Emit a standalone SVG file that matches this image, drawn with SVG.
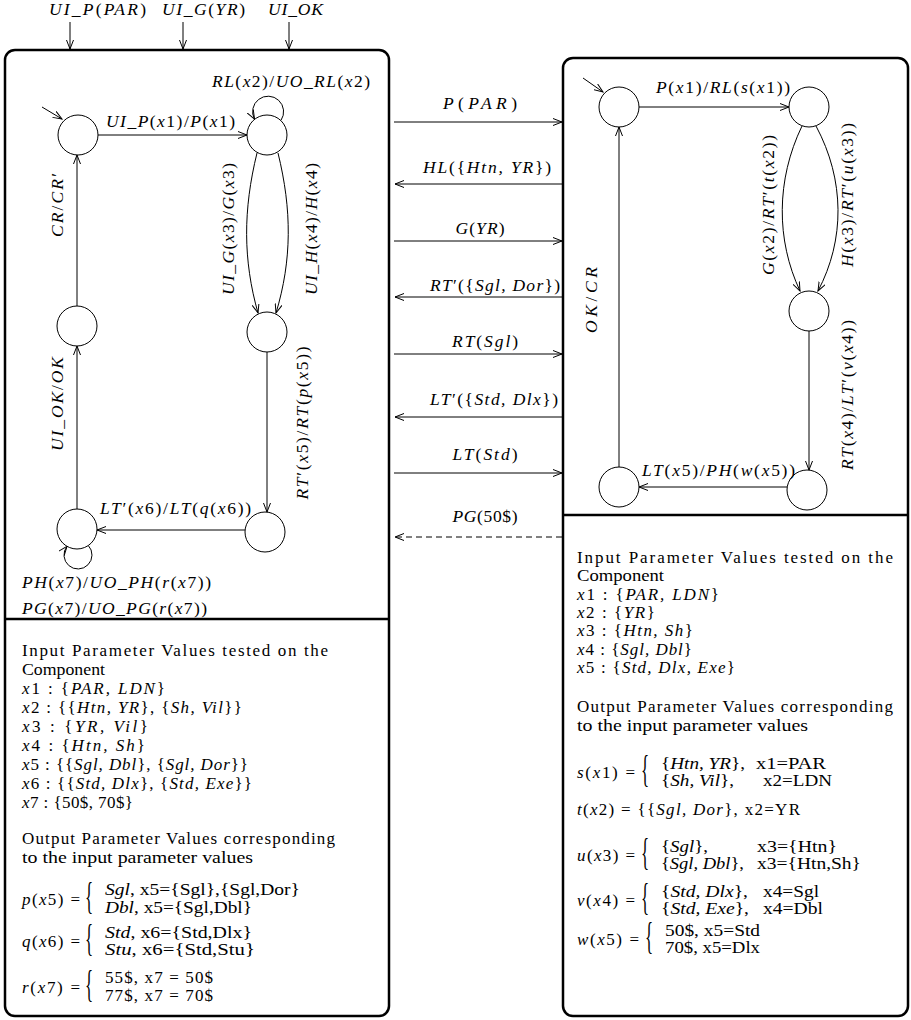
<svg xmlns="http://www.w3.org/2000/svg" width="911" height="1020" viewBox="0 0 911 1020">
<style>
.box{fill:none;stroke:#000;stroke-width:2.5}
.div{stroke:#000;stroke-width:2.5}
.st{fill:#fff;stroke:#000;stroke-width:1}
.e{fill:none;stroke:#000;stroke-width:1;marker-end:url(#a)}
.d{stroke-dasharray:6 4}
.m{font-family:"Liberation Serif",serif;font-style:italic;font-size:17.5px;fill:#000}
.t{font-family:"Liberation Serif",serif;font-size:17px;fill:#000}
.i{font-style:italic}
.u{font-style:normal}
.br{font-family:"Liberation Serif",serif;font-size:17px;fill:#000}
</style>
<defs>
<marker id="a" markerWidth="10" markerHeight="8" refX="9" refY="4" orient="auto" markerUnits="userSpaceOnUse"><path d="M0,0.5 L9,4 L0,7.5" fill="none" stroke="#000" stroke-width="1"/></marker>
</defs>
<rect width="911" height="1020" fill="#fff"/>

<g id="left-box">
<rect class="box" x="5" y="50" width="384" height="966" rx="10"/>
<line class="div" x1="5" y1="619" x2="389" y2="619"/>
</g>
<g id="right-box">
<rect class="box" x="563" y="58" width="345" height="958" rx="10"/>
<line class="div" x1="563" y1="515" x2="908" y2="515"/>
</g>

<g id="connectors">
<path class="e" d="M70,22 V49"/>
<path class="e" d="M183,22 V49"/>
<path class="e" d="M289,22 V49"/>
<path class="e" d="M42,107 L62,119"/>
<path class="e" d="M98,135 H247"/>
<path class="e" d="M281,120.3 A15.5,15.5 0 1 0 254.5,119.1"/>
<path class="e" d="M257,153 C243,210 243,260 258,313"/>
<path class="e" d="M278,153 C292,210 292,260 276,313"/>
<path class="e" d="M267,352 V512"/>
<path class="e" d="M245,530 H97"/>
<path class="e" d="M88.3,545.5 A14,14 0 1 1 67,546.3"/>
<path class="e" d="M77,509 V346"/>
<path class="e" d="M77,306 V155"/>
<path class="e" d="M394,122 H562"/>
<path class="e" d="M562,184 H395"/>
<path class="e" d="M394,241 H562"/>
<path class="e" d="M562,297 H395"/>
<path class="e" d="M394,354 H562"/>
<path class="e" d="M562,417 H395"/>
<path class="e" d="M394,473 H562"/>
<path class="e d" d="M562,537 H395"/>
<path class="e" d="M583,78 L603,92"/>
<path class="e" d="M639,107 H789"/>
<path class="e" d="M802,126 C776,180 776,240 800,291"/>
<path class="e" d="M816,126 C845,180 845,240 818,291"/>
<path class="e" d="M809,331 V470"/>
<path class="e" d="M787,487 H639"/>
<path class="e" d="M619,467 V127"/>
</g>

<g id="s-left-0"><circle class="st" cx="78" cy="135" r="20"/></g>
<g id="s-left-1"><circle class="st" cx="267" cy="135" r="20"/></g>
<g id="s-left-2"><circle class="st" cx="77" cy="326" r="20"/></g>
<g id="s-left-3"><circle class="st" cx="267" cy="332" r="20"/></g>
<g id="s-left-4"><circle class="st" cx="77" cy="529" r="20"/></g>
<g id="s-left-5"><circle class="st" cx="265" cy="532" r="20"/></g>
<g id="s-right-0"><circle class="st" cx="619" cy="107" r="20"/></g>
<g id="s-right-1"><circle class="st" cx="809" cy="107" r="20"/></g>
<g id="s-right-2"><circle class="st" cx="809" cy="311" r="20"/></g>
<g id="s-right-3"><circle class="st" cx="807" cy="490" r="20"/></g>
<g id="s-right-4"><circle class="st" cx="619" cy="487" r="20"/></g>

<g id="labels">
<text class="m" x="49" y="15" textLength="97">UI_P<tspan class="u">(</tspan>PAR<tspan class="u">)</tspan></text>
<text class="m" x="162" y="15" textLength="83">UI_G<tspan class="u">(</tspan>YR<tspan class="u">)</tspan></text>
<text class="m" x="268" y="15" textLength="55">UI_OK</text>
<text class="m" x="212" y="87" textLength="158">RL<tspan class="u">(</tspan>x<tspan class="u">2)/</tspan>UO_RL<tspan class="u">(</tspan>x<tspan class="u">2)</tspan></text>
<text class="m" x="106" y="127" textLength="129">UI_P<tspan class="u">(</tspan>x<tspan class="u">1)/</tspan>P<tspan class="u">(</tspan>x<tspan class="u">1)</tspan></text>
<text class="m" text-anchor="middle" transform="translate(234,229) rotate(-90)" textLength="132">UI_G<tspan class="u">(</tspan>x<tspan class="u">3)/</tspan>G<tspan class="u">(</tspan>x<tspan class="u">3)</tspan></text>
<text class="m" text-anchor="middle" transform="translate(317,229) rotate(-90)" textLength="132">UI_H<tspan class="u">(</tspan>x<tspan class="u">4)/</tspan>H<tspan class="u">(</tspan>x<tspan class="u">4)</tspan></text>
<text class="m" text-anchor="middle" transform="translate(63,205) rotate(-90)" textLength="64">CR<tspan class="u">/</tspan>CR<tspan class="u">′</tspan></text>
<text class="m" text-anchor="middle" transform="translate(63,404) rotate(-90)" textLength="94">UI_OK<tspan class="u">/</tspan>OK</text>
<text class="m" text-anchor="middle" transform="translate(308,423) rotate(-90)" textLength="153">RT<tspan class="u">′(</tspan>x<tspan class="u">5)/</tspan>RT<tspan class="u">(</tspan>p<tspan class="u">(</tspan>x<tspan class="u">5))</tspan></text>
<text class="m" x="100" y="514" textLength="151">LT<tspan class="u">′(</tspan>x<tspan class="u">6)/</tspan>LT<tspan class="u">(</tspan>q<tspan class="u">(</tspan>x<tspan class="u">6))</tspan></text>
<text class="m" x="22" y="588" textLength="189">PH<tspan class="u">(</tspan>x<tspan class="u">7)/</tspan>UO_PH<tspan class="u">(</tspan>r<tspan class="u">(</tspan>x<tspan class="u">7))</tspan></text>
<text class="m" x="22" y="614" textLength="185">PG<tspan class="u">(</tspan>x<tspan class="u">7)/</tspan>UO_PG<tspan class="u">(</tspan>r<tspan class="u">(</tspan>x<tspan class="u">7))</tspan></text>

<text class="m" x="480" y="109" text-anchor="middle" textLength="74">P<tspan class="u">(</tspan>PAR<tspan class="u">)</tspan></text>
<text class="m" x="487" y="173" text-anchor="middle" textLength="128">HL<tspan class="u">({</tspan>Htn, YR<tspan class="u">})</tspan></text>
<text class="m" x="480" y="234" text-anchor="middle" textLength="49">G<tspan class="u">(</tspan>YR<tspan class="u">)</tspan></text>
<text class="m" x="495" y="291" text-anchor="middle" textLength="130">RT<tspan class="u">′({</tspan>Sgl, Dor<tspan class="u">})</tspan></text>
<text class="m" x="485" y="347" text-anchor="middle" textLength="66">RT<tspan class="u">(</tspan>Sgl<tspan class="u">)</tspan></text>
<text class="m" x="494" y="405" text-anchor="middle" textLength="128">LT<tspan class="u">′({</tspan>Std, Dlx<tspan class="u">})</tspan></text>
<text class="m" x="485" y="460" text-anchor="middle" textLength="65">LT<tspan class="u">(</tspan>Std<tspan class="u">)</tspan></text>
<text class="m" x="485" y="522" text-anchor="middle" textLength="65">PG<tspan class="u">(50$)</tspan></text>

<text class="m" x="656" y="93" textLength="134">P<tspan class="u">(</tspan>x<tspan class="u">1)/</tspan>RL<tspan class="u">(</tspan>s<tspan class="u">(</tspan>x<tspan class="u">1))</tspan></text>
<text class="m" text-anchor="middle" transform="translate(774,205) rotate(-90)" textLength="140">G<tspan class="u">(</tspan>x<tspan class="u">2)/</tspan>RT<tspan class="u">′(</tspan>t<tspan class="u">(</tspan>x<tspan class="u">2))</tspan></text>
<text class="m" text-anchor="middle" transform="translate(853,195) rotate(-90)" textLength="144">H<tspan class="u">(</tspan>x<tspan class="u">3)/</tspan>RT<tspan class="u">′(</tspan>u<tspan class="u">(</tspan>x<tspan class="u">3))</tspan></text>
<text class="m" text-anchor="middle" transform="translate(853,395) rotate(-90)" textLength="150">RT<tspan class="u">(</tspan>x<tspan class="u">4)/</tspan>LT<tspan class="u">′(</tspan>v<tspan class="u">(</tspan>x<tspan class="u">4))</tspan></text>
<text class="m" x="642" y="476" textLength="153">LT<tspan class="u">(</tspan>x<tspan class="u">5)/</tspan>PH<tspan class="u">(</tspan>w<tspan class="u">(</tspan>x<tspan class="u">5))</tspan></text>
<text class="m" text-anchor="middle" transform="translate(597,300) rotate(-90)" textLength="66">OK<tspan class="u">/</tspan>CR</text>
</g>

<g id="left-params">
<text class="t" x="22" y="656" textLength="306">Input Parameter Values tested on the</text>
<text class="t" x="22" y="675" textLength="83" lengthAdjust="spacingAndGlyphs">Component</text>
<text class="t" x="22" y="694" textLength="143"><tspan class="i">x</tspan>1 : {<tspan class="i">PAR, LDN</tspan>}</text>
<text class="t" x="22" y="713" textLength="220"><tspan class="i">x</tspan>2 : {{<tspan class="i">Htn, YR</tspan>}, {<tspan class="i">Sh, Vil</tspan>}}</text>
<text class="t" x="22" y="732" textLength="126"><tspan class="i">x</tspan>3 : {<tspan class="i">YR, Vil</tspan>}</text>
<text class="t" x="22" y="751" textLength="123"><tspan class="i">x</tspan>4 : {<tspan class="i">Htn, Sh</tspan>}</text>
<text class="t" x="22" y="770" textLength="226"><tspan class="i">x</tspan>5 : {{<tspan class="i">Sgl, Dbl</tspan>}, {<tspan class="i">Sgl, Dor</tspan>}}</text>
<text class="t" x="22" y="789" textLength="230"><tspan class="i">x</tspan>6 : {{<tspan class="i">Std, Dlx</tspan>}, {<tspan class="i">Std, Exe</tspan>}}</text>
<text class="t" x="22" y="808" textLength="111"><tspan class="i">x</tspan>7 : {50$, 70$}</text>
<text class="t" x="22" y="844" textLength="313">Output Parameter Values corresponding</text>
<text class="t" x="22" y="863" textLength="231" lengthAdjust="spacingAndGlyphs">to the input parameter values</text>

<text class="t" x="22" y="905" textLength="58"><tspan class="i">p</tspan>(<tspan class="i">x</tspan>5) =</text>
<text class="br" transform="translate(85,909) scale(1,2.2)">{</text>
<text class="t" x="105" y="895" textLength="195" lengthAdjust="spacingAndGlyphs"><tspan class="i">Sgl</tspan>, x5={Sgl},{Sgl,Dor}</text>
<text class="t" x="105" y="913" textLength="147" lengthAdjust="spacingAndGlyphs"><tspan class="i">Dbl</tspan>, x5={Sgl,Dbl}</text>

<text class="t" x="22" y="947" textLength="58"><tspan class="i">q</tspan>(<tspan class="i">x</tspan>6) =</text>
<text class="br" transform="translate(85,951) scale(1,2.2)">{</text>
<text class="t" x="105" y="938" textLength="147" lengthAdjust="spacingAndGlyphs"><tspan class="i">Std</tspan>, x6={Std,Dlx}</text>
<text class="t" x="105" y="955" textLength="150" lengthAdjust="spacingAndGlyphs"><tspan class="i">Stu</tspan>, x6={Std,Stu}</text>

<text class="t" x="22" y="993" textLength="58"><tspan class="i">r</tspan>(<tspan class="i">x</tspan>7) =</text>
<text class="br" transform="translate(85,997) scale(1,2.2)">{</text>
<text class="t" x="105" y="983" textLength="108">55$, x7 = 50$</text>
<text class="t" x="105" y="1001" textLength="108">77$, x7 = 70$</text>
</g>

<g id="right-params">
<text class="t" x="577" y="563" textLength="316">Input Parameter Values tested on the</text>
<text class="t" x="577" y="581" textLength="87" lengthAdjust="spacingAndGlyphs">Component</text>
<text class="t" x="577" y="600" textLength="142"><tspan class="i">x</tspan>1 : {<tspan class="i">PAR, LDN</tspan>}</text>
<text class="t" x="577" y="618" textLength="78"><tspan class="i">x</tspan>2 : {<tspan class="i">YR</tspan>}</text>
<text class="t" x="577" y="636" textLength="116"><tspan class="i">x</tspan>3 : {<tspan class="i">Htn, Sh</tspan>}</text>
<text class="t" x="577" y="655" textLength="115"><tspan class="i">x</tspan>4 : {<tspan class="i">Sgl, Dbl</tspan>}</text>
<text class="t" x="577" y="673" textLength="158"><tspan class="i">x</tspan>5 : {<tspan class="i">Std, Dlx, Exe</tspan>}</text>
<text class="t" x="577" y="712" textLength="316">Output Parameter Values corresponding</text>
<text class="t" x="577" y="731" textLength="231" lengthAdjust="spacingAndGlyphs">to the input parameter values</text>

<text class="t" x="577" y="778" textLength="58"><tspan class="i">s</tspan>(<tspan class="i">x</tspan>1) =</text>
<text class="br" transform="translate(641,782) scale(1,2.2)">{</text>
<text class="t" x="661" y="769" textLength="84" lengthAdjust="spacingAndGlyphs">{<tspan class="i">Htn, YR</tspan>},</text>
<text class="t" x="756" y="769" textLength="70" lengthAdjust="spacingAndGlyphs">x1=PAR</text>
<text class="t" x="661" y="786" textLength="73" lengthAdjust="spacingAndGlyphs">{<tspan class="i">Sh, Vil</tspan>},</text>
<text class="t" x="763" y="786" textLength="69" lengthAdjust="spacingAndGlyphs">x2=LDN</text>

<text class="t" x="577" y="815" textLength="223"><tspan class="i">t</tspan>(<tspan class="i">x</tspan>2) = {{<tspan class="i">Sgl, Dor</tspan>}, x2=YR</text>

<text class="t" x="577" y="861" textLength="58"><tspan class="i">u</tspan>(<tspan class="i">x</tspan>3) =</text>
<text class="br" transform="translate(641,865) scale(1,2.2)">{</text>
<text class="t" x="661" y="852" textLength="47" lengthAdjust="spacingAndGlyphs">{<tspan class="i">Sgl</tspan>},</text>
<text class="t" x="757" y="852" textLength="80" lengthAdjust="spacingAndGlyphs">x3={Htn}</text>
<text class="t" x="661" y="869" textLength="83" lengthAdjust="spacingAndGlyphs">{<tspan class="i">Sgl, Dbl</tspan>},</text>
<text class="t" x="757" y="869" textLength="104" lengthAdjust="spacingAndGlyphs">x3={Htn,Sh}</text>

<text class="t" x="577" y="906" textLength="58"><tspan class="i">v</tspan>(<tspan class="i">x</tspan>4) =</text>
<text class="br" transform="translate(641,910) scale(1,2.2)">{</text>
<text class="t" x="661" y="897" textLength="87" lengthAdjust="spacingAndGlyphs">{<tspan class="i">Std, Dlx</tspan>},</text>
<text class="t" x="763" y="897" textLength="56" lengthAdjust="spacingAndGlyphs">x4=Sgl</text>
<text class="t" x="661" y="914" textLength="88" lengthAdjust="spacingAndGlyphs">{<tspan class="i">Std, Exe</tspan>},</text>
<text class="t" x="763" y="914" textLength="60" lengthAdjust="spacingAndGlyphs">x4=Dbl</text>

<text class="t" x="577" y="945" textLength="62"><tspan class="i">w</tspan>(<tspan class="i">x</tspan>5) =</text>
<text class="br" transform="translate(645,949) scale(1,2.2)">{</text>
<text class="t" x="665" y="936" textLength="95" lengthAdjust="spacingAndGlyphs">50$, x5=Std</text>
<text class="t" x="665" y="953" textLength="95" lengthAdjust="spacingAndGlyphs">70$, x5=Dlx</text>
</g>
</svg>
